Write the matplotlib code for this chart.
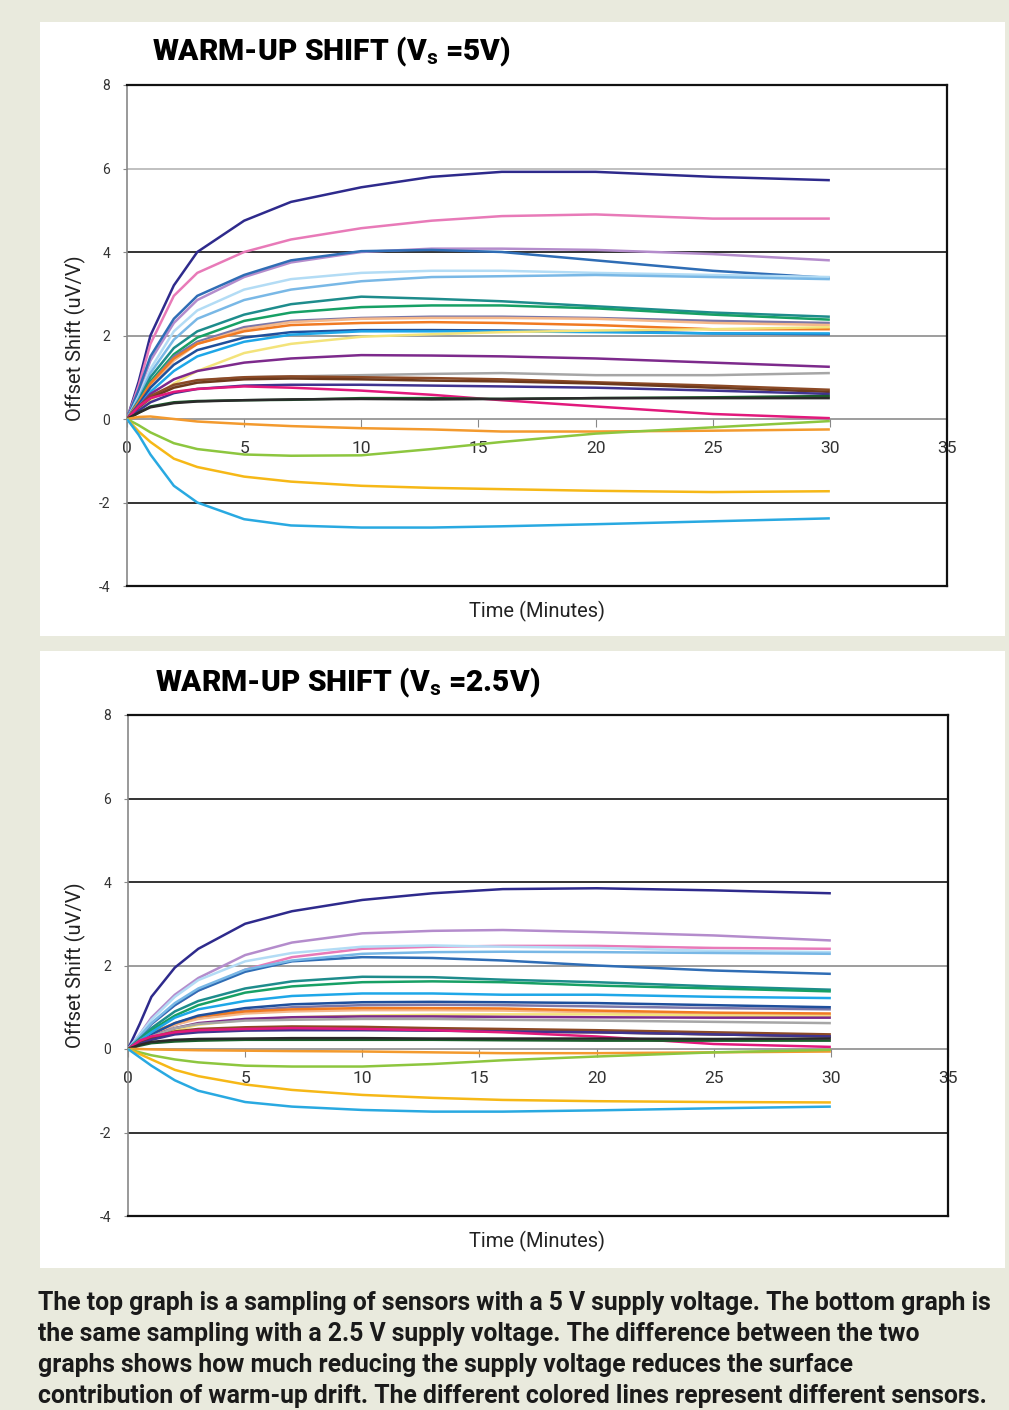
import matplotlib
matplotlib.use("Agg")
import matplotlib.pyplot as plt
from matplotlib.patches import Rectangle

plt.rcParams['font.family'] = ['Roboto', 'DejaVu Sans']
plt.rcParams['mathtext.fontset'] = 'custom'
plt.rcParams['mathtext.rm'] = 'Roboto:bold'
plt.rcParams['mathtext.default'] = 'rm'

# sample times (minutes)
minutes = [0, 0.5, 1, 2, 3, 5, 7, 10, 13, 16, 20, 25, 30]

sensor_colors = ['#2e2a8c', '#e87ab8', '#b48ccc', '#2f6db5', '#b3dcf5', '#79b8e6',
                 '#1e8c8c', '#17a065', '#7b77a8', '#f5b88a', '#f07a22', '#1f4f9c',
                 '#1ea7e8', '#f3e37a', '#7d2a8c', '#a6a6a6', '#8c4a26', '#6e3a1c',
                 '#40338f', '#e2197c', '#1b5e2c', '#2a2a2a', '#f39a2e', '#8dc63f',
                 '#f6b817', '#29a9e1']

# offset shift (uV/V) at 5 V supply, one list per sensor
shift_5v = [
    [0, 0.9, 2.0, 3.2, 4.0, 4.75, 5.2, 5.55, 5.8, 5.92, 5.92, 5.8, 5.72],
    [0, 0.8, 1.8, 2.95, 3.5, 4.0, 4.3, 4.57, 4.75, 4.86, 4.9, 4.8, 4.8],
    [0, 0.65, 1.4, 2.3, 2.85, 3.4, 3.75, 4.0, 4.08, 4.08, 4.05, 3.95, 3.8],
    [0, 0.7, 1.5, 2.4, 2.95, 3.45, 3.8, 4.02, 4.05, 4.0, 3.8, 3.55, 3.38],
    [0, 0.55, 1.2, 2.1, 2.6, 3.1, 3.35, 3.5, 3.55, 3.55, 3.5, 3.45, 3.4],
    [0, 0.5, 1.1, 1.9, 2.4, 2.85, 3.1, 3.3, 3.4, 3.42, 3.45, 3.4, 3.35],
    [0, 0.45, 1.0, 1.7, 2.1, 2.5, 2.75, 2.93, 2.88, 2.82, 2.7, 2.55, 2.45],
    [0, 0.4, 0.9, 1.55, 1.95, 2.35, 2.55, 2.68, 2.72, 2.72, 2.65, 2.5, 2.38],
    [0, 0.4, 0.85, 1.5, 1.85, 2.2, 2.35, 2.42, 2.45, 2.45, 2.42, 2.35, 2.3],
    [0, 0.38, 0.8, 1.4, 1.8, 2.15, 2.32, 2.4, 2.42, 2.42, 2.4, 2.3, 2.25],
    [0, 0.4, 0.85, 1.45, 1.8, 2.1, 2.25, 2.3, 2.32, 2.3, 2.25, 2.15, 2.15],
    [0, 0.35, 0.75, 1.3, 1.65, 1.95, 2.08, 2.13, 2.13, 2.12, 2.1, 2.05, 2.03],
    [0, 0.3, 0.65, 1.15, 1.5, 1.85, 2.02, 2.1, 2.1, 2.1, 2.08, 2.05, 2.05],
    [0, 0.2, 0.45, 0.85, 1.15, 1.58, 1.8, 1.97, 2.03, 2.08, 2.12, 2.15, 2.2],
    [0, 0.3, 0.6, 0.95, 1.15, 1.35, 1.45, 1.53, 1.52, 1.5, 1.45, 1.35, 1.25],
    [0, 0.25, 0.5, 0.8, 0.92, 1.0, 1.02, 1.05, 1.08, 1.1, 1.05, 1.05, 1.1],
    [0, 0.3, 0.55, 0.82, 0.93, 1.0, 1.02, 1.0, 0.98, 0.95, 0.88, 0.8, 0.7],
    [0, 0.28, 0.5, 0.75, 0.87, 0.95, 0.97, 0.95, 0.92, 0.9, 0.85, 0.75, 0.65],
    [0, 0.2, 0.4, 0.62, 0.72, 0.8, 0.82, 0.82, 0.8, 0.78, 0.75, 0.68, 0.6],
    [0, 0.3, 0.5, 0.65, 0.72, 0.78, 0.75, 0.68, 0.58, 0.45, 0.3, 0.12, 0.02],
    [0, 0.15, 0.3, 0.4, 0.43, 0.45, 0.46, 0.5, 0.5, 0.48, 0.5, 0.52, 0.55],
    [0, 0.15, 0.28, 0.38, 0.42, 0.45, 0.47, 0.48, 0.47, 0.48, 0.5, 0.5, 0.5],
    [0, 0.05, 0.06, 0.0, -0.06, -0.12, -0.17, -0.22, -0.25, -0.3, -0.3, -0.28, -0.25],
    [0, -0.15, -0.32, -0.58, -0.72, -0.85, -0.88, -0.87, -0.72, -0.55, -0.35, -0.2, -0.05],
    [0, -0.3, -0.55, -0.95, -1.15, -1.38, -1.5, -1.6, -1.65, -1.68, -1.72, -1.75, -1.73],
    [0, -0.38, -0.85, -1.6, -2.0, -2.4, -2.55, -2.6, -2.6, -2.57, -2.52, -2.45, -2.38],
]

# same sensors at 2.5 V supply
shift_2v5 = [
    [0, 0.6, 1.25, 1.95, 2.4, 3.0, 3.3, 3.57, 3.73, 3.83, 3.85, 3.8, 3.73],
    [0, 0.3, 0.6, 1.05, 1.4, 1.9, 2.2, 2.4, 2.45, 2.47, 2.47, 2.42, 2.4],
    [0, 0.35, 0.75, 1.3, 1.7, 2.25, 2.55, 2.77, 2.83, 2.85, 2.8, 2.72, 2.6],
    [0, 0.3, 0.6, 1.05, 1.4, 1.85, 2.1, 2.2, 2.18, 2.12, 2.0, 1.88, 1.8],
    [0, 0.35, 0.7, 1.25, 1.65, 2.1, 2.3, 2.45, 2.48, 2.45, 2.42, 2.35, 2.32],
    [0, 0.3, 0.62, 1.1, 1.45, 1.9, 2.12, 2.28, 2.32, 2.33, 2.32, 2.3, 2.28],
    [0, 0.25, 0.5, 0.9, 1.15, 1.45, 1.62, 1.73, 1.72, 1.66, 1.6, 1.5, 1.42],
    [0, 0.22, 0.45, 0.8, 1.05, 1.35, 1.5, 1.6, 1.62, 1.6, 1.52, 1.45, 1.38],
    [0, 0.16, 0.32, 0.58, 0.75, 0.92, 1.0, 1.05, 1.06, 1.05, 1.02, 0.98, 0.95],
    [0, 0.18, 0.35, 0.58, 0.72, 0.85, 0.9, 0.93, 0.93, 0.92, 0.88, 0.82, 0.8],
    [0, 0.2, 0.38, 0.62, 0.78, 0.9, 0.95, 0.98, 0.98, 0.97, 0.92, 0.87, 0.85],
    [0, 0.18, 0.35, 0.62, 0.8, 0.98, 1.07, 1.12, 1.13, 1.12, 1.1, 1.05, 1.0],
    [0, 0.2, 0.4, 0.75, 0.95, 1.15, 1.27, 1.33, 1.33, 1.3, 1.3, 1.25, 1.22],
    [0, 0.12, 0.25, 0.45, 0.58, 0.7, 0.76, 0.8, 0.82, 0.83, 0.83, 0.8, 0.78],
    [0, 0.15, 0.3, 0.5, 0.62, 0.72, 0.76, 0.78, 0.78, 0.77, 0.76, 0.75, 0.75],
    [0, 0.15, 0.3, 0.5, 0.6, 0.68, 0.7, 0.72, 0.72, 0.7, 0.68, 0.65, 0.62],
    [0, 0.15, 0.28, 0.42, 0.48, 0.52, 0.54, 0.53, 0.5, 0.48, 0.45, 0.4, 0.35],
    [0, 0.13, 0.25, 0.38, 0.43, 0.47, 0.48, 0.47, 0.45, 0.42, 0.4, 0.35, 0.3],
    [0, 0.12, 0.22, 0.35, 0.4, 0.44, 0.45, 0.45, 0.44, 0.42, 0.4, 0.35, 0.3],
    [0, 0.2, 0.3, 0.4, 0.45, 0.48, 0.5, 0.48, 0.45, 0.4, 0.3, 0.12, 0.05],
    [0, 0.08, 0.14, 0.18, 0.2, 0.22, 0.22, 0.22, 0.22, 0.21, 0.2, 0.2, 0.2],
    [0, 0.1, 0.17, 0.22, 0.24, 0.25, 0.26, 0.26, 0.25, 0.25, 0.25, 0.24, 0.25],
    [0, 0.0, -0.01, -0.02, -0.03, -0.04, -0.05, -0.06, -0.08, -0.1, -0.1, -0.08, -0.06],
    [0, -0.08, -0.15, -0.25, -0.32, -0.4, -0.42, -0.42, -0.36, -0.27, -0.18, -0.08, -0.02],
    [0, -0.12, -0.25, -0.5, -0.65, -0.85, -0.98, -1.1, -1.17, -1.22, -1.25, -1.27, -1.28],
    [0, -0.2, -0.4, -0.75, -1.0, -1.27, -1.38, -1.46, -1.5, -1.5, -1.47, -1.42, -1.38],
]

x_ticks = [0, 5, 10, 15, 20, 25, 30, 35]
y_ticks = [-4, -2, 0, 2, 4, 6, 8]
grid_levels = [6, 4, 2, -2]
grid_colors_5v = ['#b5b5b5', '#111111', '#8c8c8c', '#111111']
grid_colors_2v5 = ['#111111', '#111111', '#8c8c8c', '#111111']

titles = ['WARM-UP SHIFT (V$_{s}$ =5V)', 'WARM-UP SHIFT (V$_{s}$ =2.5V)']
caption_lines = [
    'The top graph is a sampling of sensors with a 5 V supply voltage. The bottom graph is',
    'the same sampling with a 2.5 V supply voltage. The difference between the two',
    'graphs shows how much reducing the supply voltage reduces the surface',
    'contribution of warm-up drift. The different colored lines represent different sensors.',
]

W, H = 1009, 1410
fig = plt.figure(figsize=(W / 100, H / 100), dpi=100, facecolor='#e9eadd')

# white panels behind the two graphs
for top, bot in [(22, 636), (651, 1268)]:
    fig.patches.append(Rectangle((40 / W, 1 - bot / H), (1005 - 40) / W, (bot - top) / H,
                                 transform=fig.transFigure, facecolor='white',
                                 edgecolor='none', zorder=-5))


def draw_panel(ax, series, grid_colors):
    ax.set_facecolor('white')
    for vals, c in zip(series, sensor_colors):
        ax.plot(minutes, vals, color=c, lw=1.8, solid_capstyle='butt',
                solid_joinstyle='round', zorder=3)
    for lvl, gc in zip(grid_levels, grid_colors):
        ax.axhline(lvl, color=gc, lw=1.2, zorder=1)
    ax.set_xlim(0, 35)
    ax.set_ylim(-4, 8)
    ax.set_xticks([])
    ax.set_yticks(y_ticks)
    ax.set_yticklabels([str(v).replace('-', '-') for v in y_ticks])
    ax.tick_params(axis='y', length=3, color='#888888', labelsize=10,
                   labelcolor='#333333', pad=9)
    for s in ['top', 'right', 'bottom']:
        ax.spines[s].set_color('#111111')
        ax.spines[s].set_linewidth(1.6)
    ax.spines['left'].set_color('#888888')
    ax.spines['left'].set_linewidth(1.2)
    # x axis crossing at zero
    zero_pos = (0 - y_ticks[0]) / (y_ticks[-1] - y_ticks[0])
    sec = ax.secondary_xaxis(zero_pos)
    sec.set_xticks(x_ticks)
    sec.tick_params(direction='out', length=6, color='#888888', labelsize=12.5,
                    labelcolor='#333333', pad=10)
    sec.spines['bottom'].set_color('#8c8c8c')
    sec.spines['bottom'].set_linewidth(1.2)


ax_top = fig.add_axes([127 / W, 1 - 586 / H, (947 - 127) / W, (586 - 85) / H])
ax_bot = fig.add_axes([128 / W, 1 - 1216 / H, (948 - 128) / W, (1216 - 715) / H])
draw_panel(ax_top, shift_5v, grid_colors_5v)
draw_panel(ax_bot, shift_2v5, grid_colors_2v5)

# titles and axis labels
fig.text(152 / W, 1 - 52 / H, titles[0], fontsize=21.5, fontweight='heavy', va='center', ha='left')
fig.text(155 / W, 1 - 683 / H, titles[1], fontsize=21.5, fontweight='heavy', va='center', ha='left')
for yc in [338, 965]:
    fig.text(75 / W, 1 - yc / H, 'Offset Shift (uV/V)', rotation=90, fontsize=14.5,
             color='#222222', va='center', ha='center')
for yc in [611, 1241]:
    fig.text(537 / W, 1 - yc / H, 'Time (Minutes)', fontsize=14.5, color='#222222',
             va='center', ha='center')

# caption
for i, line in enumerate(caption_lines):
    fig.text(38 / W, 1 - (1303 + i * 31) / H, line, fontsize=17.8, fontweight='bold',
             color='#1a1a1a', va='center', ha='left')

fig.savefig('out.png', dpi=100, facecolor=fig.get_facecolor())
